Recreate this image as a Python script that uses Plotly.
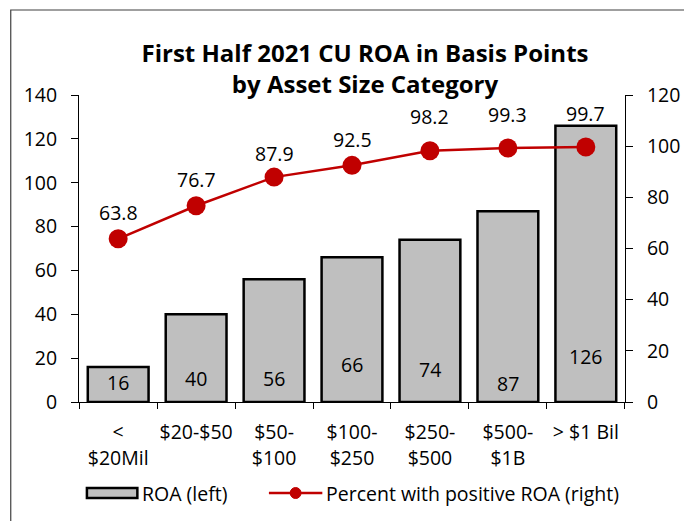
import plotly.graph_objects as go

categories = ["<<br>$20Mil", "$20-$50", "$50-<br>$100", "$100-<br>$250",
              "$250-<br>$500", "$500-<br>$1B", "> $1 Bil"]
roa_bp = [16, 40, 56, 66, 74, 87, 126]
pct_positive = [63.8, 76.7, 87.9, 92.5, 98.2, 99.3, 99.7]
bar_name = "ROA (left)"
line_name = "Percent with positive ROA (right)"

# label placement (pixel offsets, styling only)
bar_label_shift = [20, 24, 24, 38, 33, 19, 46]
line_label_shift = [26, 26, 24, 26, 34, 33, 33]

FONT = "Open Sans"
FS = 19.5
RED = "#C00000"
GRAY = "#BFBFBF"
OFF = 8  # page body margin
W, H = 692 - OFF, 521 - OFF
L, T = 79 - OFF, 95 - OFF
R = W - (631 - OFF)
B = H - (402 - OFF)
pw, ph = W - L - R, H - T - B


def px(x):
    return (x - OFF - L) / pw


def py(y):
    return (H - B - (y - OFF)) / ph


fig = go.Figure()
fig.add_trace(go.Bar(
    x=categories, y=roa_bp, name=bar_name,
    marker=dict(color=GRAY, line=dict(color="black", width=2.5)),
    yaxis="y", showlegend=False,
))
fig.add_trace(go.Scatter(
    x=categories, y=pct_positive, name=line_name,
    mode="lines+markers",
    line=dict(color=RED, width=2.5),
    marker=dict(color=RED, size=19),
    yaxis="y2", showlegend=False,
))

for cat, v, s in zip(categories, roa_bp, bar_label_shift):
    fig.add_annotation(x=cat, y=0, xref="x", yref="y", text=str(v),
                       showarrow=False, yanchor="middle", yshift=s,
                       font=dict(family=FONT, size=FS, color="black"))
for cat, v, s in zip(categories, pct_positive, line_label_shift):
    fig.add_annotation(x=cat, y=v, xref="x", yref="y2", text=f"{v:.1f}",
                       showarrow=False, yanchor="middle", yshift=s,
                       font=dict(family=FONT, size=FS, color="black"))

# outer frame
fig.add_shape(type="rect", xref="paper", yref="paper",
              x0=px(10), x1=px(900), y0=py(900), y1=py(10),
              line=dict(color="#404040", width=1.2), fillcolor="rgba(0,0,0,0)",
              layer="below")

# custom legend
fig.add_shape(type="rect", xref="paper", yref="paper",
              x0=px(87), x1=px(138), y0=py(498), y1=py(488),
              line=dict(color="black", width=2.5), fillcolor=GRAY)
fig.add_annotation(xref="paper", yref="paper", x=px(141), y=py(493),
                   text=bar_name, showarrow=False, xanchor="left",
                   yanchor="middle", font=dict(family=FONT, size=FS))
fig.add_shape(type="line", xref="paper", yref="paper",
              x0=px(271), x1=px(325), y0=py(493), y1=py(493),
              line=dict(color=RED, width=2.5))
fig.add_shape(type="circle", xref="paper", yref="paper",
              x0=px(292.5), x1=px(303.5), y0=py(498.5), y1=py(487.5),
              line=dict(color=RED, width=1), fillcolor=RED)
fig.add_annotation(xref="paper", yref="paper", x=px(327), y=py(493),
                   text=line_name, showarrow=False, xanchor="left",
                   yanchor="middle", font=dict(family=FONT, size=FS))

fig.update_layout(
    width=W, height=H,
    margin=dict(l=L, r=R, t=T, b=B),
    paper_bgcolor="white", plot_bgcolor="white",
    font=dict(family=FONT, size=FS, color="black"),
    title=dict(text="<b>First Half 2021 CU ROA in Basis Points<br>by Asset Size Category</b>",
               x=(365 - OFF) / W, xanchor="center", y=1 - (62 - OFF) / H,
               yanchor="middle",
               font=dict(family=FONT, size=24, color="black")),
    bargap=0.22,
    showlegend=False,
    xaxis=dict(showline=True, linecolor="black", linewidth=1,
               ticks="outside", tickson="boundaries", ticklen=6,
               tickcolor="black", showgrid=False, ticklabelstandoff=13,
               tickangle=0,
               tickfont=dict(family=FONT, size=FS)),
    yaxis=dict(range=[0, 140], dtick=20, showline=True, linecolor="black",
               linewidth=1, ticks="outside", ticklen=7, tickcolor="black",
               showgrid=False, zeroline=False, ticklabelstandoff=10,
               tickfont=dict(family=FONT, size=FS)),
    yaxis2=dict(range=[0, 120], dtick=20, overlaying="y", side="right",
                showline=True, linecolor="black", linewidth=1,
                ticks="outside", ticklen=7, tickcolor="black",
                showgrid=False, zeroline=False, ticklabelstandoff=10,
                tickfont=dict(family=FONT, size=FS)),
)

fig.write_html("out.html")
